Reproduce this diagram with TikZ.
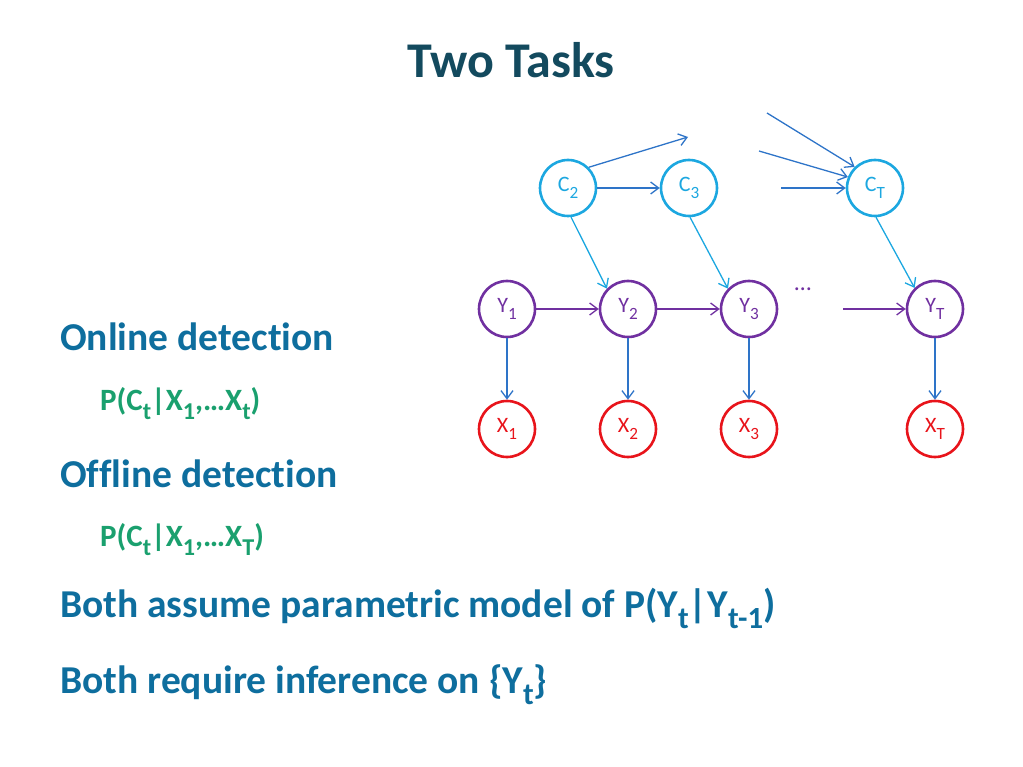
\documentclass[tikz,border=0pt]{standalone}
\usepackage{fontspec}
\setmainfont{Carlito}[Ligatures = {NoCommon, NoRare, NoDiscretionary}]
\usepackage{tikz}
\usetikzlibrary{arrows.meta}
\definecolor{TitoloBlu}{HTML}{134A5E}
\definecolor{TestoBlu}{HTML}{0E6E9E}
\definecolor{VerdeFormula}{HTML}{1AA06E}
\definecolor{CelesteC}{HTML}{1CA7E0}
\definecolor{ViolaY}{HTML}{7030A0}
\definecolor{RossoX}{HTML}{E8141B}
\definecolor{BluFreccia}{HTML}{2E74C8}
\newcommand{\pedice}[1]{\raisebox{-.3em}{\scalebox{.78}{#1}}}

\tikzset{
  var/.style = {circle, draw, line width = 2.6pt, minimum size = 56pt, inner sep = 0pt,
    font = \fontsize{22}{26}\selectfont},
  cvar/.style = {var, draw = CelesteC, text = CelesteC},
  yvar/.style = {var, draw = ViolaY, text = ViolaY},
  xvar/.style = {var, draw = RossoX, text = RossoX},
  freccia/.style = {-{Straight Barb[length = 8pt, width = 12pt]}, line width = 1.3pt},
  voce/.style = {anchor = base west, inner sep = 0pt, text = TestoBlu,
    font = \fontsize{39.5}{46}\selectfont\bfseries},
  formula/.style = {anchor = base west, inner sep = 0pt, text = VerdeFormula,
    font = \fontsize{31}{37}\selectfont\bfseries}
}

\begin{document}
\begin{tikzpicture}[x = 1pt, y = -1pt]
  \useasboundingbox (0,0) rectangle (1023,767);

  \node[anchor = base, inner sep = 0pt, text = TitoloBlu,
    font = \fontsize{50}{60}\selectfont\bfseries] (titolo) at (511,78) {Two Tasks};

  \node[voce] (online) at (60,351) {Online detection};
  \node[formula] (fonline) at (100,410) {P(C\pedice{t}|X\pedice{1},…X\pedice{t})};
  \node[voce] (offline) at (60,487) {Offline detection};
  \node[formula] (foffline) at (100,546) {P(C\pedice{t}|X\pedice{1},…X\pedice{T})};
  \node[voce] (assume) at (60,617) {Both assume parametric model of P(Y\pedice{t}|Y\pedice{t-1})};
  \node[voce] (require) at (60,693) {Both require inference on \{Y\pedice{t}\}};

  % change points
  \node[cvar] (C2) at (568,188) {C\pedice{2}};
  \node[cvar] (C3) at (689,188) {C\pedice{3}};
  \node[cvar] (CT) at (875,188) {C\pedice{T}};

  % hidden states
  \node[yvar] (Y1) at (507,309) {Y\pedice{1}};
  \node[yvar] (Y2) at (628,309) {Y\pedice{2}};
  \node[yvar] (Y3) at (749,309) {Y\pedice{3}};
  \node[yvar] (YT) at (935,309) {Y\pedice{T}};
  \node[anchor = base, text = ViolaY, font = \fontsize{24}{28}\selectfont] (puntini) at (803,291) {…};

  % observations
  \node[xvar] (X1) at (507,429) {X\pedice{1}};
  \node[xvar] (X2) at (628,429) {X\pedice{2}};
  \node[xvar] (X3) at (749,429) {X\pedice{3}};
  \node[xvar] (XT) at (935,429) {X\pedice{T}};

  \coordinate (fuoriC2) at (688,137);
  \coordinate (versoCT1) at (767,113);
  \coordinate (versoCT2) at (759,151);
  \coordinate (versoCT3) at (781,188);
  \coordinate (versoYT) at (843,309);

  \draw[freccia, draw = BluFreccia] (C2.45) -- (fuoriC2);
  \draw[freccia, draw = BluFreccia] (C2) -- (C3);
  \draw[freccia, draw = BluFreccia] (versoCT1) -- (CT.134);
  \draw[freccia, draw = BluFreccia] (versoCT2) -- (CT.158);
  \draw[freccia, draw = BluFreccia] (versoCT3) -- (CT);

  \draw[freccia, draw = CelesteC] (C2.-84) -- (Y2.136);
  \draw[freccia, draw = CelesteC] (C3.-88) -- (Y3.136);
  \draw[freccia, draw = CelesteC] (CT.-88) -- (YT.134);

  \draw[freccia, draw = ViolaY] (Y1) -- (Y2);
  \draw[freccia, draw = ViolaY] (Y2) -- (Y3);
  \draw[freccia, draw = ViolaY] (versoYT) -- (YT);

  \foreach \i in {1,2,3,T}
    \draw[freccia, draw = BluFreccia] (Y\i) -- (X\i);

\end{tikzpicture}
\end{document}
